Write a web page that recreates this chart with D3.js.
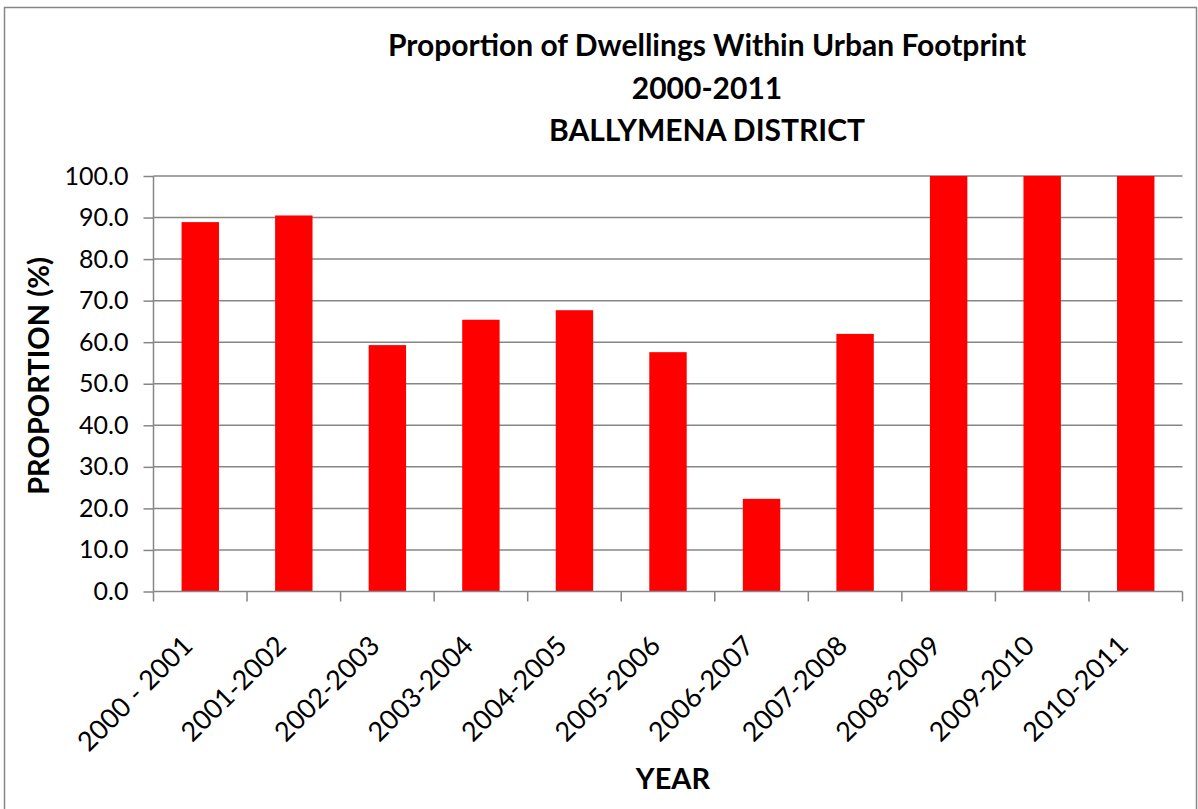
<!DOCTYPE html>
<html>
<head>
<meta charset="utf-8">
<script src="https://cdn.jsdelivr.net/npm/d3@7"></script>
<style>
  body { margin: 0; background: #fff; }
  svg { display: block; font-family: Lato, "Open Sans", sans-serif; }
</style>
</head>
<body>
<div id="graph"></div>
<script>
"use strict";
(function() {
    const years = ["2000 - 2001", "2001-2002", "2002-2003", "2003-2004", "2004-2005",
                   "2005-2006", "2006-2007", "2007-2008", "2008-2009", "2009-2010", "2010-2011"];
    const proportion = [88.9, 90.5, 59.3, 65.4, 67.7, 57.6, 22.3, 62.0, 100.0, 100.0, 100.0];
    const yTicks = [0, 10, 20, 30, 40, 50, 60, 70, 80, 90, 100];
    const titleLines = ["Proportion of Dwellings Within Urban Footprint", "2000-2011", "BALLYMENA DISTRICT"];

    const svgSize = { width: 1198, height: 809 };
    const plot = { left: 153.5, right: 1182.5, top: 176, bottom: 591.5 };
    const gridColor = "#868686";

    window.addEventListener("load", init);

    function init() {
        let svg = d3.select("#graph")
                    .append("svg")
                        .attr("width", svgSize.width)
                        .attr("height", svgSize.height);

        // chart border (bottom edge falls outside the picture)
        svg.append("rect")
            .attr("x", 4.5).attr("y", 7.5)
            .attr("width", 1192).attr("height", 810)
            .attr("fill", "#fff")
            .attr("stroke", gridColor)
            .attr("stroke-width", 1.5);

        let xScale = d3.scaleBand()
                        .domain(years)
                        .range([plot.left, plot.right])
                        .paddingInner(0.6)
                        .paddingOuter(0.3);
        let yScale = d3.scaleLinear()
                        .domain([0, 100])
                        .range([plot.bottom, plot.top]);

        // gridlines
        svg.append("g")
            .selectAll("line")
            .data(yTicks.slice(1))
            .enter()
            .append("line")
                .attr("x1", plot.left).attr("x2", plot.right)
                .attr("y1", d => yScale(d)).attr("y2", d => yScale(d))
                .attr("stroke", gridColor)
                .attr("stroke-width", 1.5);

        // bars
        svg.append("g")
            .selectAll("rect")
            .data(years)
            .enter()
            .append("rect")
                .attr("x", d => xScale(d))
                .attr("width", xScale.bandwidth())
                .attr("y", (d, i) => yScale(proportion[i]))
                .attr("height", (d, i) => plot.bottom - yScale(proportion[i]))
                .attr("fill", "#ff0000");

        // y axis
        let yAxis = svg.append("g")
            .attr("transform", "translate(" + plot.left + ",0)")
            .call(d3.axisLeft(yScale).tickValues(yTicks).tickFormat(d3.format(".1f")).tickSize(10).tickPadding(15));
        yAxis.selectAll("line, path").attr("stroke", gridColor).attr("stroke-width", 1.5);
        yAxis.select("path").attr("d", "M0," + plot.top + "V" + plot.bottom);
        yAxis.selectAll("text")
            .attr("font-size", "25px")
            .attr("fill", "#000")
            .attr("font-family", "Lato, 'Open Sans', sans-serif");

        // x axis: ticks on band boundaries
        let bounds = d3.range(years.length + 1).map(i => plot.left + i * (plot.right - plot.left) / years.length);
        let xAxisG = svg.append("g");
        xAxisG.append("line")
            .attr("x1", plot.left).attr("x2", plot.right)
            .attr("y1", plot.bottom).attr("y2", plot.bottom)
            .attr("stroke", gridColor).attr("stroke-width", 1.5);
        xAxisG.selectAll("line.tick")
            .data(bounds)
            .enter()
            .append("line")
                .attr("class", "tick")
                .attr("x1", d => d).attr("x2", d => d)
                .attr("y1", plot.bottom).attr("y2", plot.bottom + 10)
                .attr("stroke", gridColor).attr("stroke-width", 1.5);
        xAxisG.selectAll("text")
            .data(years)
            .enter()
            .append("text")
                .attr("transform", d => "translate(" + (xScale(d) + xScale.bandwidth() / 2 - 6) + "," + (plot.bottom + 56) + ") rotate(-45)")
                .attr("text-anchor", "end")
                .attr("font-size", "27px")
                .attr("fill", "#000")
                .text(d => d);

        // title
        svg.append("g")
            .selectAll("text")
            .data(titleLines)
            .enter()
            .append("text")
                .attr("x", 707)
                .attr("y", (d, i) => 56 + i * 42.5)
                .attr("text-anchor", "middle")
                .attr("font-size", "30px")
                .attr("font-weight", "bold")
                .attr("fill", "#000")
                .text(d => d);

        // axis titles
        svg.append("text")
            .attr("transform", "translate(49,376) rotate(-90)")
            .attr("text-anchor", "middle")
            .attr("font-size", "29px")
            .attr("font-weight", "bold")
            .text("PROPORTION (%)");
        svg.append("text")
            .attr("x", 673)
            .attr("y", 789)
            .attr("text-anchor", "middle")
            .attr("font-size", "29px")
            .attr("font-weight", "bold")
            .text("YEAR");
    }
})();
</script>
</body>
</html>
